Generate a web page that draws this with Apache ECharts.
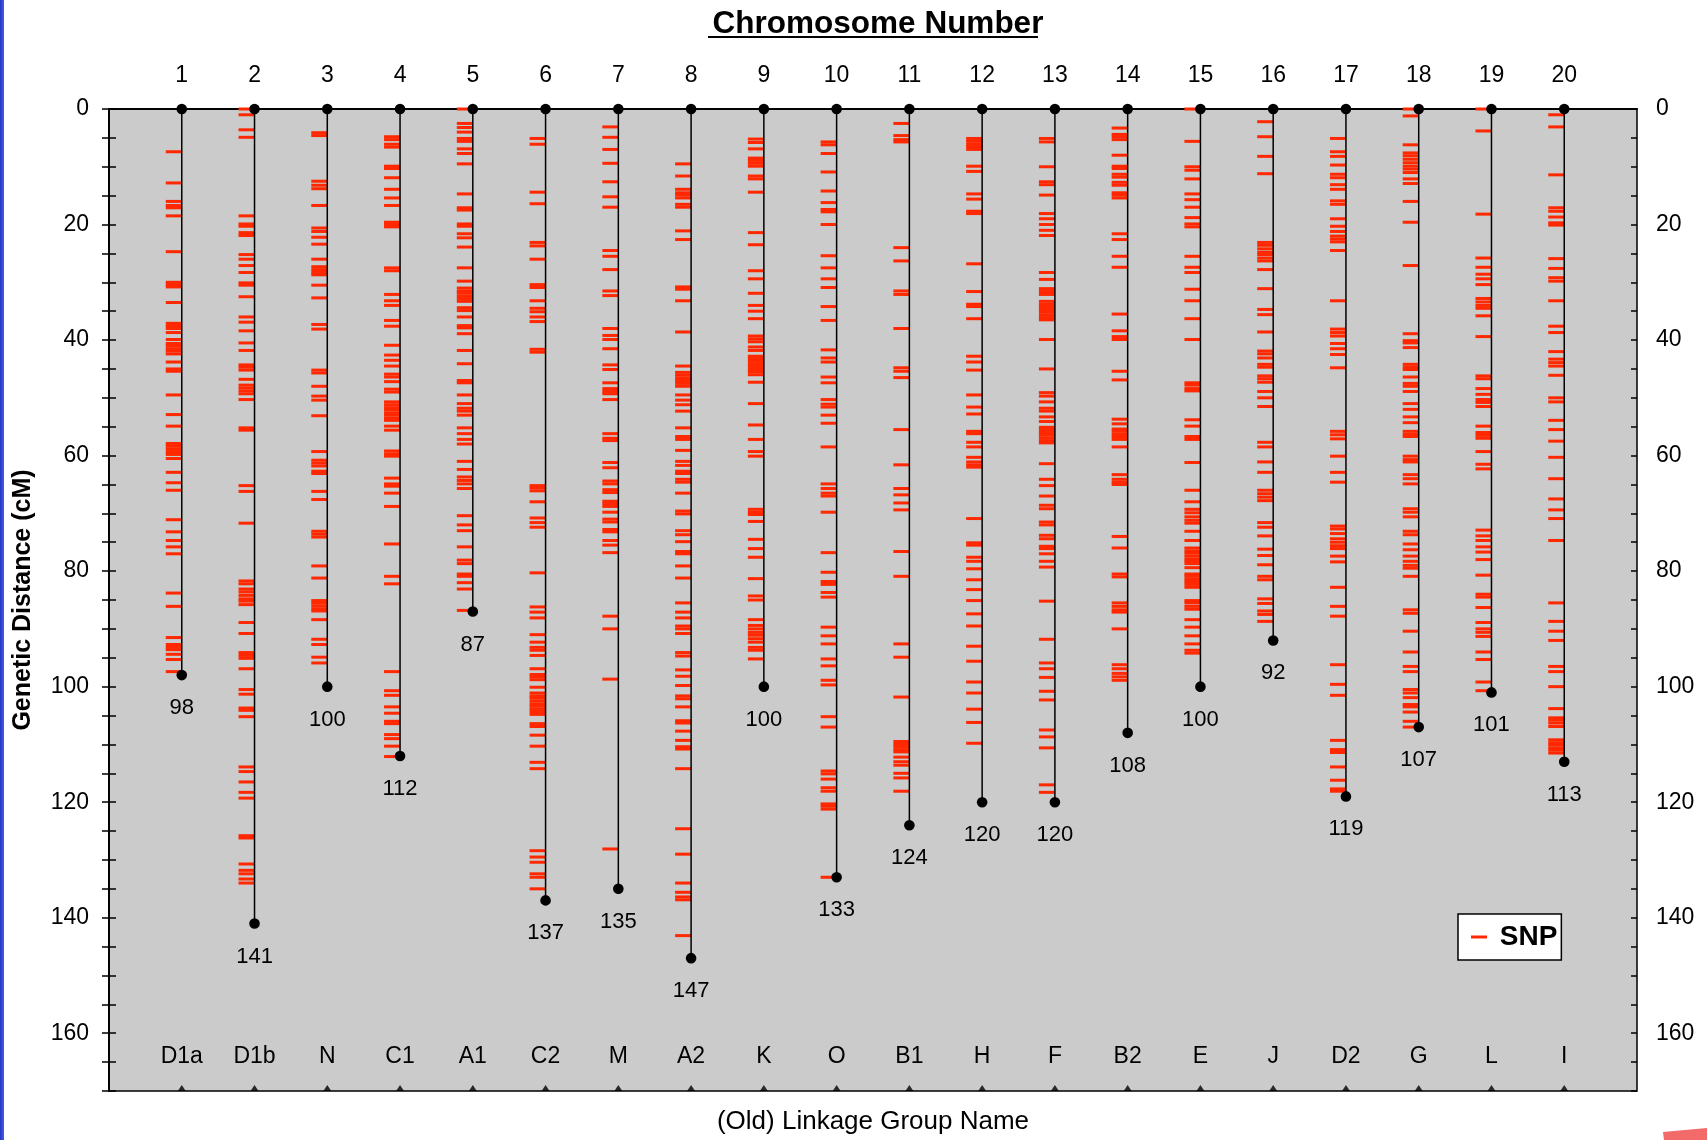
<!DOCTYPE html>
<html>
<head>
<meta charset="utf-8">
<script src="https://cdn.jsdelivr.net/npm/echarts@6/dist/echarts.min.js"></script>
<style>
html,body{margin:0;padding:0;background:#fff;}
#chart{width:1707px;height:1140px;}
</style>
</head>
<body>
<div id="chart"></div>
<script>
// ---------- DATA ----------
const chromosomeNumbers = [1,2,3,4,5,6,7,8,9,10,11,12,13,14,15,16,17,18,19,20];
const linkageGroups = ['D1a','D1b','N','C1','A1','C2','M','A2','K','O','B1','H','F','B2','E','J','D2','G','L','I'];
const lengths = [98,141,100,112,87,137,135,147,100,133,124,120,120,108,100,92,119,107,101,113];
const yTickLabels = [0,20,40,60,80,100,120,140,160];

const snp1 = [7.4,12.8,16.0,16.7,17.1,18.5,24.7,30.0,30.4,30.8,33.5,37.1,37.5,38.0,38.7,39.9,40.6,41.0,41.5,41.9,42.4,43.8,45.0,45.4,49.5,52.9,54.9,57.9,58.3,58.8,59.3,59.8,60.5,62.9,64.7,66.0,71.1,73.2,74.7,75.8,77.0,83.8,86.1,91.5,92.7,93.2,93.6,94.4,95.3,97.4];
const snp2 = [0,1.0,3.6,4.9,18.5,19.9,20.3,21.4,21.9,25.2,26.0,27.1,28.3,30.1,30.5,32.5,36.0,36.9,38.4,40.5,41.8,44.3,44.7,45.2,46.8,47.8,48.3,48.8,49.3,50.3,55.2,55.6,65.2,66.2,71.7,81.7,82.2,83.1,83.6,84.2,84.8,85.2,85.8,88.9,90.8,94.1,94.6,95.1,96.9,100.5,101.3,103.7,104.1,105.2,113.9,114.7,116.5,118.3,119.3,125.8,126.2,130.7,131.8,132.4,133.3,134.0];
const snp3 = [4.1,4.6,12.5,13.2,13.8,16.7,20.6,21.2,22.2,23.4,26.0,27.3,27.8,28.3,28.7,30.5,32.7,37.3,38.1,45.2,45.7,48.0,49.7,50.4,53.1,59.3,60.8,61.3,61.8,62.7,63.1,66.2,67.6,73.1,73.6,74.1,79.1,81.2,85.1,85.5,86.0,86.5,86.9,88.4,91.8,92.7,94.9,95.9];
const snp4 = [4.8,5.3,6.1,6.6,9.9,10.3,11.9,13.9,15.4,16.7,19.6,20.0,20.4,27.5,28.0,32.1,33.2,34.0,36.6,37.6,40.9,42.6,43.5,44.5,45.9,46.4,47.2,48.5,49.0,50.7,51.2,51.7,52.1,52.6,53.0,53.5,53.9,54.9,55.6,59.2,59.7,60.1,63.9,64.9,65.3,66.5,68.8,75.3,80.9,82.2,97.4,100.7,101.5,103.5,104.6,106.0,106.4,108.3,109.0,110.3,112.1];
const snp5 = [0,2.5,3.2,4.0,5.1,5.6,6.9,7.7,9.5,14.7,17.1,17.5,19.9,20.3,21.6,22.3,23.9,27.5,29.8,31.0,31.5,31.9,32.4,32.8,33.3,34.4,34.9,36.0,37.5,37.9,38.9,41.8,44.1,47.0,47.4,49.5,51.0,51.8,52.3,53.0,55.2,56.2,57.2,58.0,61.0,62.4,63.7,64.3,64.9,65.7,70.4,72.0,73.0,75.8,78.1,78.7,80.5,80.9,82.0,83.1,86.8];
const snp6 = [5.1,6.1,14.4,16.4,23.1,23.7,26.0,30.4,30.9,33.2,34.5,35.1,36.0,36.8,41.6,42.1,65.2,65.6,66.1,68.0,70.8,71.6,72.4,80.3,86.2,87.1,88.1,91.0,92.3,93.2,93.7,94.6,96.9,97.9,98.3,98.8,100.1,101.1,101.6,102.0,102.5,103.0,103.4,103.9,104.3,104.8,106.4,106.9,108.4,110.3,113.1,114.2,128.4,129.5,130.4,132.4,133.0,135.0];
const snp7 = [3.1,4.9,7.0,9.4,12.6,15.2,17.0,24.5,25.5,27.8,31.5,32.3,38.0,39.2,39.9,41.5,44.3,45.1,47.4,48.4,48.9,49.3,50.3,56.2,57.0,57.4,61.2,62.1,64.4,64.9,65.9,66.4,67.9,68.3,68.8,69.8,71.0,71.5,72.8,73.2,74.7,75.5,76.8,87.8,90.0,98.7,128.1];
const snp8 = [9.5,11.6,13.9,14.5,14.9,15.4,16.5,17.0,21.1,22.6,30.8,31.2,33.2,38.6,44.5,45.6,46.1,46.6,47.0,47.5,48.0,49.5,50.4,51.2,52.3,55.2,56.7,57.2,59.1,61.0,61.7,62.7,63.1,64.1,64.6,66.5,69.6,70.1,73.0,73.7,74.9,76.6,77.0,79.1,81.2,85.5,87.1,88.1,89.5,90.0,90.8,94.1,94.7,97.1,98.2,99.8,101.6,102.1,103.5,105.9,106.3,107.7,109.3,110.4,110.8,114.2,124.6,129.0,134.0,135.6,136.4,136.9,143.1];
const snp9 = [5.2,5.8,6.9,8.5,8.9,9.4,9.9,11.6,12.1,14.4,21.4,23.5,28.0,29.4,31.9,34.0,35.0,36.3,39.3,39.8,40.3,41.2,41.8,42.8,43.2,43.7,44.2,44.6,45.1,45.5,46.0,47.3,51.0,54.7,57.2,59.3,60.1,69.3,69.8,70.2,71.4,74.5,76.1,77.6,81.3,84.3,85.0,88.4,89.4,90.0,90.6,91.1,91.7,92.3,93.2,93.7,95.2];
const snp10 = [5.7,6.2,7.7,10.9,14.2,16.2,17.4,17.8,20.0,25.4,27.5,29.4,30.9,34.2,36.6,41.7,43.1,43.8,46.4,47.4,50.3,51.1,51.6,53.0,54.4,58.5,64.9,65.7,66.5,67.0,69.8,76.8,80.2,81.8,82.3,83.7,84.5,89.7,91.2,92.6,95.2,96.4,98.9,99.7,105.2,107.0,114.6,115.1,116.0,117.5,118.1,120.3,120.7,121.2,133.0];
const snp11 = [2.5,4.6,5.3,5.7,24.0,26.3,31.5,32.1,38.0,44.8,45.4,46.5,55.5,61.6,65.7,66.8,68.2,69.4,76.6,80.9,92.6,94.9,101.8,109.5,110.0,110.4,110.9,111.3,112.2,113.0,113.6,115.0,115.8,118.1];
const snp12 = [5.1,5.6,6.1,6.5,7.0,9.9,10.8,14.7,15.6,17.7,18.1,26.8,31.6,33.8,34.2,36.3,42.8,43.8,45.2,49.5,51.6,52.8,55.8,56.2,57.7,58.5,60.3,61.1,61.6,62.0,70.9,75.1,75.5,77.6,78.3,79.6,81.5,83.2,85.1,87.4,89.5,93.0,95.6,99.2,101.1,103.9,106.2,109.8];
const snp13 = [5.1,5.7,10.0,12.6,13.1,14.9,18.1,19.0,20.0,21.0,21.9,28.3,29.5,31.1,31.6,32.1,33.3,33.8,34.2,34.7,35.1,35.6,36.1,36.5,39.9,45.0,49.1,49.7,50.7,51.8,52.3,53.3,54.1,55.1,55.5,56.0,56.4,56.9,57.4,57.8,61.4,64.1,65.2,67.0,68.6,69.2,71.5,72.0,73.8,74.4,75.7,76.1,77.0,78.3,79.3,85.2,91.8,95.9,96.9,98.4,100.8,102.3,107.5,108.7,110.6,117.0,118.3];
const snp14 = [3.3,4.4,4.8,5.3,8.0,9.9,10.3,11.3,11.8,12.7,13.2,14.5,14.9,15.4,21.6,22.6,25.5,27.4,35.5,38.4,39.4,39.9,45.4,46.9,53.7,54.5,55.4,55.8,56.3,56.7,57.2,58.5,63.3,64.1,64.6,65.0,74.0,76.0,80.5,81.0,85.5,86.1,86.7,87.1,90.0,96.2,96.9,97.7,98.3,98.9];
const snp15 = [0,5.6,10.0,10.6,12.1,14.7,15.7,17.0,18.8,19.9,20.4,25.5,27.4,28.3,31.2,33.2,36.3,39.9,47.4,47.8,48.4,48.8,53.8,54.9,56.7,57.2,61.2,66.0,68.0,69.3,69.9,70.6,71.2,71.7,73.1,74.7,76.0,76.5,76.9,77.4,77.9,78.3,78.7,79.4,80.5,80.9,81.4,81.8,82.3,82.8,85.1,85.5,86.1,86.6,88.4,89.7,91.2,92.6,93.7,94.2];
const snp16 = [2.2,4.8,8.2,11.2,23.1,23.6,24.2,24.8,25.2,25.8,26.3,27.8,31.1,34.7,35.6,38.6,41.9,42.4,43.1,44.2,44.7,46.2,46.7,47.3,48.9,50.0,51.5,57.7,58.5,61.1,62.9,66.0,66.6,67.2,67.8,71.6,72.4,73.9,76.2,77.3,78.9,80.9,81.5,84.8,85.6,86.9,87.5,88.7];
const snp17 = [5.1,7.4,8.2,9.7,11.3,11.9,13.1,13.9,15.9,16.5,19.0,20.3,21.2,22.0,22.5,23.0,24.5,33.2,38.1,38.7,39.3,40.6,41.5,42.5,44.8,55.8,56.4,57.1,60.1,62.9,64.6,72.2,72.7,73.5,74.4,75.0,75.6,76.1,77.4,78.4,82.8,86.1,87.8,96.2,99.6,101.5,109.3,110.9,111.4,113.9,116.2,117.7,118.1];
const snp18 = [0,1.2,6.2,7.6,8.1,8.7,9.3,9.9,10.4,11.0,12.1,12.9,16.0,19.6,27.1,38.9,40.1,40.5,41.3,44.2,44.7,45.1,46.4,47.5,48.0,48.9,51.0,52.0,53.3,54.3,55.8,56.3,56.7,60.1,60.7,61.1,63.3,64.0,64.9,69.2,69.8,70.6,73.1,73.7,75.3,76.3,77.4,78.3,79.0,79.5,80.9,86.7,87.3,90.4,94.0,96.5,97.4,100.5,101.1,101.9,103.1,103.5,104.4,106.0,107.0];
const snp19 = [0,3.8,18.2,25.8,27.4,28.6,29.4,30.4,32.8,33.4,34.0,34.5,35.8,39.4,46.2,46.7,48.4,49.4,50.3,50.8,51.5,54.9,56.0,56.5,57.0,59.3,61.5,62.3,72.9,73.9,74.7,75.8,76.7,78.0,80.7,84.0,84.5,86.3,88.9,90.0,90.6,91.3,94.0,95.3,99.2,100.7];
const snp20 = [1.0,3.1,11.4,17.1,17.7,18.7,19.7,20.1,25.9,27.6,29.2,29.8,33.2,37.6,38.7,42.0,43.3,43.9,44.5,46.1,50.0,50.7,53.9,55.5,57.5,60.3,64.0,67.5,69.4,70.9,74.7,85.5,88.7,90.4,92.0,96.5,97.4,100.0,103.8,105.4,105.8,106.3,106.9,109.2,109.7,110.1,110.6,111.0,111.5];

const snpLists = [snp1,snp2,snp3,snp4,snp5,snp6,snp7,snp8,snp9,snp10,snp11,snp12,snp13,snp14,snp15,snp16,snp17,snp18,snp19,snp20];

// ---------- BUILD ----------
const FONT = '"Liberation Sans", Arial, Helvetica, sans-serif';
const snpData = [];
snpLists.forEach((list, i) => list.forEach(p => snpData.push([chromosomeNumbers[i], p])));
const chromData = lengths.map((l, i) => [chromosomeNumbers[i], l]);
const triData = chromosomeNumbers.map(c => [c, 170]);

const chart = echarts.init(document.getElementById('chart'), null, {renderer: 'canvas'});

const yCommon = {
  type: 'value', inverse: true, min: 0, max: 170, interval: 5,
  splitLine: {show: false},
};
const labelFmt = v => (yTickLabels.indexOf(v) >= 0 ? String(v) : '');

const option = {
  backgroundColor: '#ffffff',
  animation: false,
  title: {
    text: 'Chromosome Number',
    left: 873, top: 3, textAlign: 'center',
    textStyle: {fontFamily: FONT, fontSize: 31.5, fontWeight: 'bold', color: '#000'}
  },
  legend: {
    data: ['SNP'],
    left: 1458, top: 914,
    orient: 'horizontal',
    icon: 'rect', itemWidth: 16, itemHeight: 3,
    padding: [9, 4, 9, 13],
    backgroundColor: '#fff', borderColor: '#000', borderWidth: 1.5,
    formatter: ' {name}',
    textStyle: {fontFamily: FONT, fontSize: 28, fontWeight: 'bold', color: '#000'},
    selectedMode: false
  },
  grid: {
    left: 109, right: 70, top: 109, bottom: 48,
    show: true, backgroundColor: '#CBCBCB', borderColor: '#000', borderWidth: 1.5
  },
  xAxis: [
    {
      type: 'value', position: 'bottom', min: 0, max: 21, interval: 1,
      name: '(Old) Linkage Group Name', nameLocation: 'middle', nameGap: 18,
      nameTextStyle: {fontFamily: FONT, fontSize: 26, color: '#000'},
      axisLine: {show: true, lineStyle: {color: '#000', width: 1.5}},
      axisTick: {show: false}, axisLabel: {show: false}, splitLine: {show: false}
    },
    {
      type: 'value', position: 'top', min: 0, max: 21, interval: 1,
      axisLine: {show: true, lineStyle: {color: '#000', width: 1.5}},
      axisTick: {show: false}, splitLine: {show: false},
      axisLabel: {
        show: true, margin: 22, fontFamily: FONT, fontSize: 23, color: '#000',
        formatter: v => (v >= 1 && v <= 20 ? String(chromosomeNumbers[v - 1]) : '')
      }
    }
  ],
  yAxis: [
    Object.assign({}, yCommon, {
      position: 'left',
      name: 'Genetic Distance (cM)', nameLocation: 'middle', nameGap: 73, nameRotate: 90,
      nameTextStyle: {fontFamily: FONT, fontSize: 25, fontWeight: 'bold', color: '#000'},
      axisLine: {show: true, lineStyle: {color: '#000', width: 1.5}},
      axisTick: {show: true, inside: false, length: 7, lineStyle: {color: '#000', width: 1.5}},
      axisLabel: {show: true, margin: 20, fontFamily: FONT, fontSize: 23, color: '#000', formatter: labelFmt}
    }),
    Object.assign({}, yCommon, {
      position: 'right',
      axisLine: {show: true, lineStyle: {color: '#000', width: 1.5}},
      axisTick: {show: true, inside: false, length: 7, lineStyle: {color: '#000', width: 1.5}},
      axisLabel: {show: true, margin: 19, fontFamily: FONT, fontSize: 23, color: '#000', formatter: labelFmt}
    }),
    Object.assign({}, yCommon, {
      position: 'left',
      axisLine: {show: false},
      axisTick: {show: true, inside: true, length: 6, lineStyle: {color: '#000', width: 1.5}},
      axisLabel: {show: false}
    }),
    Object.assign({}, yCommon, {
      position: 'right',
      axisLine: {show: false},
      axisTick: {show: true, inside: true, length: 6, lineStyle: {color: '#000', width: 1.5}},
      axisLabel: {show: false}
    })
  ],
  series: [
    {
      name: 'SNP', type: 'scatter', xAxisIndex: 0, yAxisIndex: 0,
      data: snpData, symbol: 'rect', symbolSize: [16, 3], symbolOffset: [-8, 0],
      itemStyle: {color: '#FF2800', opacity: 1}, z: 2, silent: true, clip: false
    },
    {
      name: 'Chromosome', type: 'custom', xAxisIndex: 0, yAxisIndex: 0, z: 3, clip: false, silent: true,
      data: chromData,
      renderItem: function (params, api) {
        const x = api.value(0), len = api.value(1);
        const top = api.coord([x, 0]);
        const bot = api.coord([x, len]);
        const nameP = api.coord([x, 164]);
        return {
          type: 'group',
          children: [
            {type: 'line', shape: {x1: top[0], y1: top[1], x2: bot[0], y2: bot[1]},
              style: {stroke: '#000', lineWidth: 1.5}},
            {type: 'circle', shape: {cx: top[0], cy: top[1], r: 5.3}, style: {fill: '#000'}},
            {type: 'circle', shape: {cx: bot[0], cy: bot[1], r: 5.3}, style: {fill: '#000'}},
            {type: 'text', style: {text: String(lengths[params.dataIndex]), x: bot[0], y: bot[1] + 33,
              align: 'center', verticalAlign: 'middle', fill: '#000', font: '22px ' + FONT}},
            {type: 'text', style: {text: linkageGroups[params.dataIndex], x: nameP[0], y: nameP[1],
              align: 'center', verticalAlign: 'middle', fill: '#000', font: '23px ' + FONT}}
          ]
        };
      }
    },
    {
      name: 'AxisMark', type: 'scatter', xAxisIndex: 0, yAxisIndex: 0,
      data: triData, symbol: 'triangle', symbolSize: [8, 6], symbolOffset: [0, -3],
      itemStyle: {color: '#000'}, z: 4, silent: true, clip: false
    }
  ],
  graphic: [
    {type: 'line', shape: {x1: 708, y1: 37, x2: 1038, y2: 37}, style: {stroke: '#000', lineWidth: 2}},
    {type: 'rect', shape: {x: 0, y: 0, width: 4, height: 1140},
      style: {fill: new echarts.graphic.LinearGradient(0, 0, 1, 0, [{offset: 0, color: '#2536C8'}, {offset: 1, color: '#4A5BE6'}])}},
    {type: 'polygon', shape: {points: [[1663, 1132], [1707, 1128], [1707, 1140], [1664, 1140]]},
      style: {fill: '#F26A6A'}}
  ]
};

chart.setOption(option);
</script>
</body>
</html>
